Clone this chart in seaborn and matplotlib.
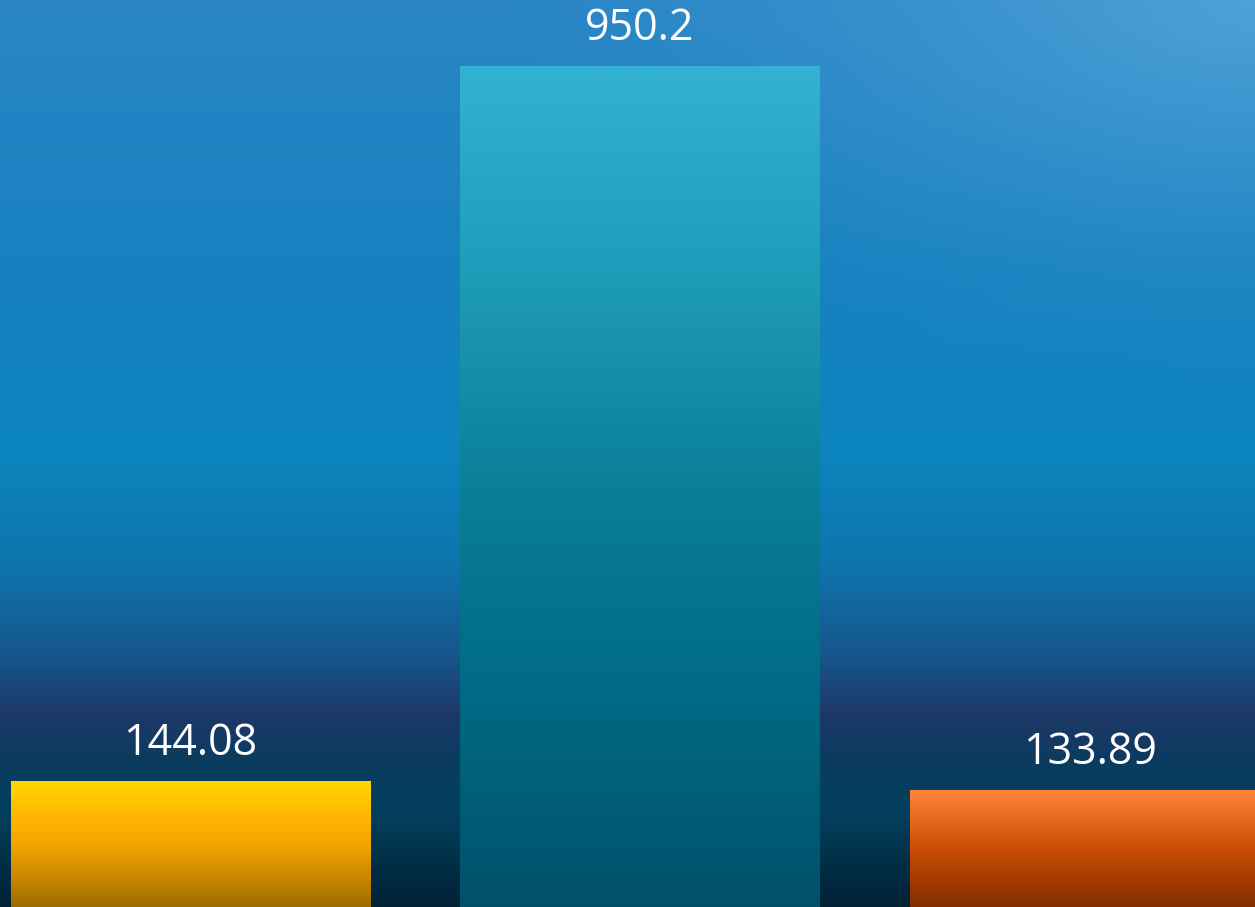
import numpy as np
import pandas as pd
import matplotlib
matplotlib.use("Agg")
import matplotlib.pyplot as plt
from matplotlib.colors import LinearSegmentedColormap, to_rgb
import seaborn as sns

# chart data
categories = ["A", "B", "C"]
values = [144.08, 950.2, 133.89]
labels = ["144.08", "950.2", "133.89"]

# gradient stops per bar (top -> bottom)
bar_gradients = [
    ["#FFD800", "#FFB800", "#F3A400", "#C98800", "#9A6A00"],
    ["#33B2D2", "#1E9CB8", "#0A7F98", "#006A84", "#00506A"],
    ["#FF8538", "#E8691E", "#C84D06", "#A63C00", "#7E2C00"],
]

sns.set_theme(style="white")
plt.rcParams["font.family"] = ["Open Sans", "DejaVu Sans"]

fig = plt.figure(figsize=(12.55, 9.07), dpi=100)

# background picture: blue sky-like gradient
bg_ax = fig.add_axes([0, 0, 1, 1], zorder=0)
bg_ax.set_axis_off()
h, w = 400, 500
stops = [(0.0, "#2a86c6"), (0.3, "#1781c0"), (0.5, "#0c85be"), (0.63, "#0f73ab"),
         (0.72, "#16578e"), (0.79, "#1e3868"), (0.84, "#0c3c60"), (0.9, "#02405e"),
         (0.95, "#023048"), (1.0, "#012236")]
vcmap = LinearSegmentedColormap.from_list("bg", stops)
yy, xx = np.mgrid[0:1:h * 1j, 0:1:w * 1j]
img = vcmap(yy)[..., :3]
# lighter glow in upper right
glow = np.clip(1 - np.hypot((xx - 1.0) / 0.6, (yy - 0.0) / 0.45), 0, 1) ** 1.5
img = img * (1 - 0.45 * glow[..., None]) + np.array(to_rgb("#7cc4ec")) * 0.45 * glow[..., None]
bg_ax.imshow(img, aspect="auto", extent=[0, 1, 0, 1], origin="upper")
bg_ax.set_xlim(0, 1)
bg_ax.set_ylim(0, 1)

# bar chart
ax = fig.add_axes([0, 0, 1, 1], zorder=1)
ax.patch.set_alpha(0)
df = pd.DataFrame({"category": categories, "value": values})
sns.barplot(data=df, x="category", y="value", ax=ax, width=0.8,
            color="#1E9CB8", edgecolor="none", saturation=1)
ax.set_xlim(-0.424, 2.368)
ax.set_ylim(2.3, 1024.6)
ax.set_axis_off()

for patch, stops_c, lab in zip(ax.patches, bar_gradients, labels):
    x0, y0 = patch.get_x(), patch.get_y()
    bw, bh = patch.get_width(), patch.get_height()
    cmap = LinearSegmentedColormap.from_list("g", stops_c)
    grad = np.linspace(0, 1, 256).reshape(-1, 1)
    im = ax.imshow(grad, cmap=cmap, aspect="auto", origin="upper",
                   extent=[x0, x0 + bw, y0, y0 + bh], zorder=2)
    im.set_clip_path(patch)
    ax.annotate(lab, (x0 + bw / 2, y0 + bh), xytext=(0, 11), textcoords="offset points",
                ha="center", va="bottom", color="white", fontsize=31)

ax.set_xlim(-0.424, 2.368)
ax.set_ylim(2.3, 1024.6)

fig.savefig("out.png", dpi=100)
